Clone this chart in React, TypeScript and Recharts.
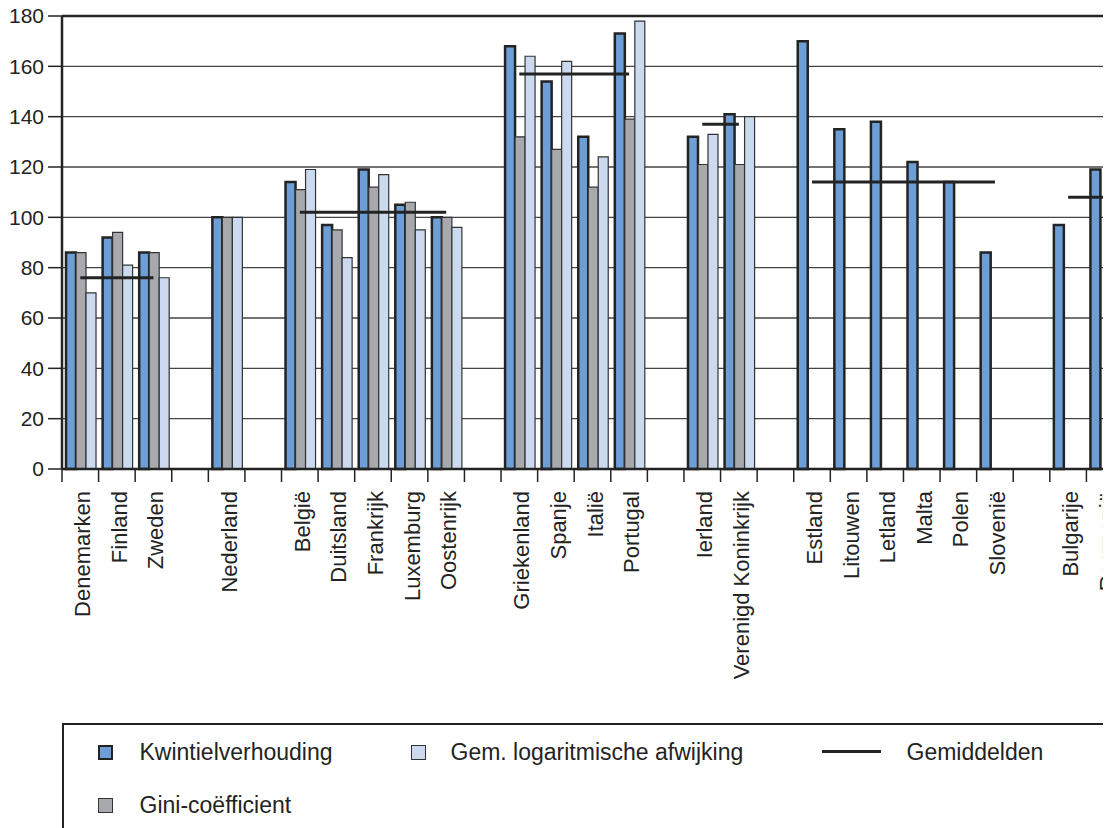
import { Bar, CartesianGrid, ComposedChart, Legend, Line, ReferenceLine, XAxis, YAxis } from 'recharts';

// Landen in volgorde, lege namen zijn de witruimtes tussen de groepen
const landen = [
  'Denemarken', 'Finland', 'Zweden', '',
  'Nederland', '',
  'België', 'Duitsland', 'Frankrijk', 'Luxemburg', 'Oostenrijk', '',
  'Griekenland', 'Spanje', 'Italië', 'Portugal', '',
  'Ierland', 'Verenigd Koninkrijk', '',
  'Estland', 'Litouwen', 'Letland', 'Malta', 'Polen', 'Slovenië', '',
  'Bulgarije', 'Roemenië',
];

const kwintiel = [
  86, 92, 86, null,
  100, null,
  114, 97, 119, 105, 100, null,
  168, 154, 132, 173, null,
  132, 141, null,
  170, 135, 138, 122, 114, 86, null,
  97, 119,
];

const gini = [
  86, 94, 86, null,
  100, null,
  111, 95, 112, 106, 100, null,
  132, 127, 112, 139, null,
  121, 121, null,
  null, null, null, null, null, null, null,
  null, null,
];

const logAfwijking = [
  70, 81, 76, null,
  100, null,
  119, 84, 117, 95, 96, null,
  164, 162, 124, 178, null,
  133, 140, null,
  null, null, null, null, null, null, null,
  null, null,
];

// groepsgemiddelden, per land herhaald zodat de lijn over de groep loopt
const gemiddelde = [
  76, 76, 76, null,
  null, null,
  102, 102, 102, 102, 102, null,
  157, 157, 157, 157, null,
  137, 137, null,
  114, 114, 114, 114, 114, 114, null,
  108, 108,
];

const yTicks = [0, 20, 40, 60, 80, 100, 120, 140, 160, 180];

const data = landen.map((land, i) => ({
  land,
  kwintiel: kwintiel[i],
  gini: gini[i],
  gla: logAfwijking[i],
  gem: gemiddelde[i],
}));

const FONT = '"Liberation Sans", Arial, sans-serif';
const INK = '#232323';
const BLAUW = '#6d9fd6';
const GRIJS = '#a7a9ac';
const LICHT = '#cbdaef';

const MARGIN_L = 8;
const MARGIN_R = 15;
const Y_AXIS_W = 54;
const PLOT_W = 1061;
const CHART_W = MARGIN_L + Y_AXIS_W + PLOT_W + MARGIN_R;
const CHART_H = 848;
const BAND = PLOT_W / landen.length;

function LandTick(props: any) {
  const { x, y, payload } = props;
  const grens = x - BAND / 2;
  return (
    <g>
      <line x1={grens} x2={grens} y1={y} y2={y + 13} stroke={INK} strokeWidth={1.5} />
      {payload.value && (
        <text
          x={x + 10}
          y={y + 22}
          transform={`rotate(-90, ${x + 10}, ${y + 22})`}
          textAnchor="end"
          fill={INK}
          fontSize={22}
          fontFamily={FONT}
        >
          {payload.value}
        </text>
      )}
    </g>
  );
}

// vaste plek per reeks in het legendakader
const legendaPlek: Record<string, { left: number; top: number; text: number }> = {
  kwintiel: { left: 36, top: 29, text: 78 },
  gla: { left: 349, top: 29, text: 389 },
  gem: { left: 760, top: 29, text: 845 },
  gini: { left: 36, top: 82, text: 78 },
};

function LegendaKader(props: any) {
  const { payload } = props;
  return (
    <div
      style={{
        position: 'relative',
        width: '100%',
        height: 125,
        boxSizing: 'border-box',
        borderTop: `2.5px solid ${INK}`,
        borderLeft: `2.5px solid ${INK}`,
        fontFamily: FONT,
        fontSize: 23,
        color: INK,
      }}
    >
      {(payload || []).map((item: any) => {
        const plek = legendaPlek[item.dataKey];
        if (!plek) return null;
        const isLijn = item.type === 'line';
        return (
          <div key={item.dataKey}>
            {isLijn ? (
              <div
                style={{
                  position: 'absolute',
                  left: plek.left - 2.5,
                  top: plek.top - 4,
                  width: 59,
                  height: 3,
                  background: INK,
                }}
              />
            ) : (
              <div
                style={{
                  position: 'absolute',
                  left: plek.left - 2.5,
                  top: plek.top - 9.5,
                  width: 15,
                  height: 15,
                  boxSizing: 'border-box',
                  background: item.color,
                  border: item.dataKey === 'kwintiel' ? `2.5px solid ${INK}` : '1.2px solid #333',
                }}
              />
            )}
            <span
              style={{
                position: 'absolute',
                left: plek.text - 2.5,
                top: plek.top - 2.5,
                transform: 'translateY(-50%)',
                whiteSpace: 'nowrap',
                lineHeight: 1,
              }}
            >
              {item.value}
            </span>
          </div>
        );
      })}
    </div>
  );
}

export default function App() {
  return (
    <div style={{ margin: '-8px 0 0 -8px', width: 1111, height: 828, overflow: 'hidden' }}>
      <ComposedChart
        width={CHART_W}
        height={CHART_H}
        data={data}
        margin={{ top: 16, right: MARGIN_R, left: MARGIN_L, bottom: 0 }}
        barCategoryGap="11%"
        barGap={0}
      >
        <CartesianGrid vertical={false} stroke="#444" strokeWidth={1.4} />
        <XAxis
          dataKey="land"
          interval={0}
          height={254}
          tickSize={0}
          tickMargin={0}
          tickLine={false}
          axisLine={{ stroke: INK, strokeWidth: 2.5 }}
          tick={<LandTick />}
        />
        <YAxis
          width={Y_AXIS_W}
          domain={[0, 180]}
          ticks={yTicks}
          interval={0}
          tickSize={14}
          tickMargin={4}
          tickLine={{ stroke: INK, strokeWidth: 1.5 }}
          axisLine={{ stroke: INK, strokeWidth: 2.5 }}
          tick={{ fill: INK, fontSize: 21, fontFamily: FONT }}
        />
        <ReferenceLine y={180} stroke={INK} strokeWidth={2.5} />
        <Bar
          dataKey="kwintiel"
          name="Kwintielverhouding"
          fill={BLAUW}
          stroke={INK}
          strokeWidth={2.5}
          isAnimationActive={false}
        />
        <Bar
          dataKey="gini"
          name="Gini-coëfficient"
          fill={GRIJS}
          stroke="#333"
          strokeWidth={1.2}
          isAnimationActive={false}
        />
        <Bar
          dataKey="gla"
          name="Gem. logaritmische afwijking"
          fill={LICHT}
          stroke="#333"
          strokeWidth={1.2}
          isAnimationActive={false}
        />
        <Line
          dataKey="gem"
          name="Gemiddelden"
          type="linear"
          stroke={INK}
          strokeWidth={3}
          dot={false}
          activeDot={false}
          legendType="line"
          isAnimationActive={false}
        />
        <Legend
          verticalAlign="bottom"
          align="left"
          content={<LegendaKader />}
          wrapperStyle={{ left: MARGIN_L + Y_AXIS_W, width: 1100, height: 125 }}
        />
      </ComposedChart>
    </div>
  );
}
